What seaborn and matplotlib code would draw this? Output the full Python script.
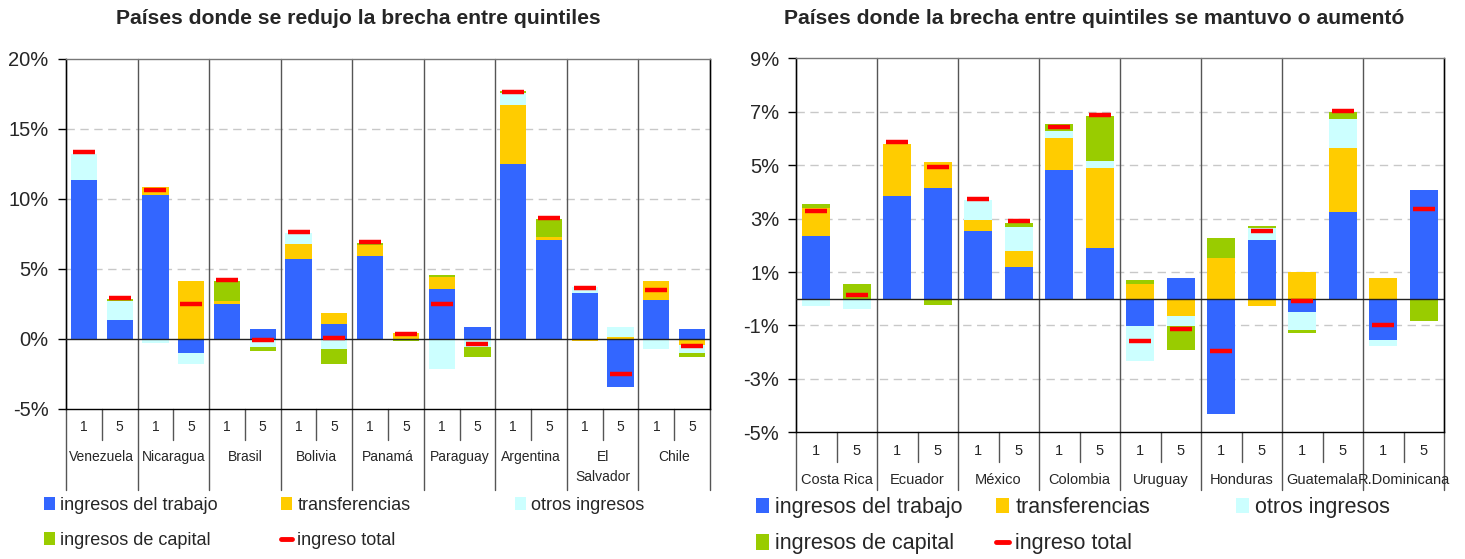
import numpy as np
import pandas as pd
import matplotlib
matplotlib.use("Agg")
import matplotlib.pyplot as plt
import seaborn as sns
from matplotlib.patches import Patch
from matplotlib.lines import Line2D

# ---------------- data ----------------
quintiles = ["1", "5"]
series_names = ["ingresos del trabajo", "transferencias", "otros ingresos",
                "ingresos de capital", "ingreso total"]

countries_L = ["Venezuela", "Nicaragua", "Brasil", "Bolivia", "Panamá",
               "Paraguay", "Argentina", "El\nSalvador", "Chile"]
trabajo_L = [11.35, 1.35, 10.3, -1.0, 2.5, 0.7, 5.7, 1.05, 5.95, 0.0,
             3.55, 0.85, 12.5, 7.05, 3.3, -3.45, 2.8, 0.7]
transf_L = [0.0, 0.0, 0.55, 4.15, 0.2, 0.0, 1.1, 0.8, 0.8, 0.4,
            0.9, -0.1, 4.2, 0.22, -0.12, 0.15, 1.35, -0.43]
otros_L = [1.9, 1.35, -0.25, -0.75, 0.05, -0.55, 0.75, -0.7, 0.0, 0.0,
           -2.15, -0.5, 0.85, 0.0, 0.4, 0.7, -0.7, -0.57]
capital_L = [0.0, 0.15, 0.0, 0.0, 1.4, -0.3, 0.0, -1.1, 0.12, -0.12,
             0.12, -0.65, 0.15, 1.28, 0.0, 0.0, 0.0, -0.29]
total_L = [13.35, 2.95, 10.65, 2.5, 4.25, -0.05, 7.65, 0.1, 6.95, 0.35,
           2.5, -0.35, 17.65, 8.65, 3.65, -2.5, 3.5, -0.5]
yticks_L = [20, 15, 10, 5, 0, -5]
ylabels_L = ["20%", "15%", "10%", "5%", "0%", "-5%"]

countries_R = ["Costa Rica", "Ecuador", "México", "Colombia", "Uruguay",
               "Honduras", "Guatemala", "R.Dominicana"]
trabajo_R = [2.35, 0.0, 3.85, 4.15, 2.55, 1.2, 4.8, 1.9,
             -1.02, 0.77, -4.3, 2.2, -0.5, 3.25, -1.55, 4.07]
transf_R = [1.06, 0.0, 1.95, 0.97, 0.4, 0.6, 1.2, 3.0,
            0.55, -0.65, 1.52, -0.27, 1.0, 2.39, 0.77, 0.0]
otros_R = [-0.26, -0.37, 0.0, 0.0, 0.75, 0.9, 0.27, 0.27,
           -1.31, -0.37, 0.0, 0.43, -0.67, 1.09, -0.22, 0.0]
capital_R = [0.14, 0.55, 0.0, -0.25, 0.0, 0.15, 0.26, 1.68,
             0.15, -0.9, 0.75, 0.09, -0.12, 0.26, 0.0, -0.84]
total_R = [3.3, 0.15, 5.85, 4.93, 3.74, 2.91, 6.44, 6.88,
           -1.59, -1.14, -1.96, 2.53, -0.09, 7.03, -0.99, 3.36]
yticks_R = [9, 7, 5, 3, 1, -1, -3, -5]
ylabels_R = ["9%", "7%", "5%", "3%", "1%", "-1%", "-3%", "-5%"]

colors = ["#3366FF", "#FFCC00", "#CCFFFF", "#99CC00", "#FF0000"]

# ---------------- style ----------------
sns.set_style("white")
plt.rcParams["font.family"] = ["Liberation Sans", "DejaVu Sans"]

W, H = 1465, 559
fig = plt.figure(figsize=(W / 100, H / 100), dpi=100)


def px_axes(x0, y0, x1, y1):
    return fig.add_axes([x0 / W, 1 - y1 / H, (x1 - x0) / W, (y1 - y0) / H])


def draw_panel(ax, countries, comps_list, total, yticks, ylabels, bar_w,
               bottom_px, height_px, sep_px, div_px, q_px, c_px, csize,
               mark_len, ypad):
    keys = [f"{c}|{q}" for c in countries for q in quintiles]
    n = len(keys)
    comps = np.array(comps_list)
    pos = np.where(comps > 0, comps, 0).cumsum(axis=0)
    neg = np.where(comps < 0, comps, 0).cumsum(axis=0)
    for i in range(3, -1, -1):
        for arr in (pos, neg):
            df = pd.DataFrame({"k": keys, "v": arr[i]})
            sns.barplot(data=df, x="k", y="v", order=keys, color=colors[i],
                        saturation=1, width=bar_w, linewidth=0,
                        edgecolor="none", errorbar=None, ax=ax, zorder=3)
    sns.pointplot(x=keys, y=total, order=keys, color=colors[4],
                  marker="_", linestyle="none", errorbar=None,
                  markersize=mark_len, markeredgewidth=3.2, ax=ax, zorder=6)

    ymin, ymax = min(yticks), max(yticks)
    ax.set_xlim(-0.5, n - 0.5)
    ax.set_ylim(ymin, ymax)
    ax.set_xticks([])
    ax.set_xlabel("")
    ax.set_ylabel("")
    ax.set_yticks(yticks)
    ax.set_yticklabels(ylabels)
    ax.tick_params(axis="y", left=True, length=6, width=1, color="black",
                   labelsize=14.5, pad=ypad)

    for t in yticks:
        if t not in (ymin, ymax, 0):
            ax.axhline(t, color="#C8C8C8", lw=1, ls=(0, (6, 4)), zorder=1)
    ax.axhline(0, color="#222222", lw=1, zorder=5)

    for sp in ["left", "bottom", "right"]:
        ax.spines[sp].set_color("black")
        ax.spines[sp].set_linewidth(1)
    ax.spines["top"].set_color("#777777")
    ax.spines["top"].set_linewidth(1)

    tr = ax.get_xaxis_transform()
    f = lambda p: -(p - bottom_px) / height_px
    for k in range(len(countries) + 1):
        b = 2 * k - 0.5
        ax.plot([b, b], [f(div_px), 1], transform=tr, color="#555555",
                lw=1, clip_on=False, zorder=2)
    for k in range(len(countries)):
        m = 2 * k + 0.5
        ax.plot([m, m], [f(sep_px), 0], transform=tr, color="#555555",
                lw=1, clip_on=False, zorder=2)
        ax.text(2 * k + 0.5, f(c_px), countries[k], transform=tr,
                ha="center", va="top", fontsize=csize, linespacing=1.55)
    for i in range(n):
        ax.text(i, f(q_px), quintiles[i % 2], transform=tr, ha="center",
                va="center", fontsize=csize)


axL = px_axes(66, 59, 710, 409)
draw_panel(axL, countries_L, [trabajo_L, transf_L, otros_L, capital_L],
           total_L, yticks_L, ylabels_L, 0.73, 409, 350,
           440, 490, 427, 450, 10, 15.5, 6.6)

axR = px_axes(796, 58.3, 1444, 432.3)
draw_panel(axR, countries_R, [trabajo_R, transf_R, otros_R, capital_R],
           total_R, yticks_R, ylabels_R, 0.70, 432.3, 374,
           462, 490, 451, 473, 10.5, 16, 6.0)

# titles
fig.text(358 / W, 1 - 18 / H, "Países donde se redujo la brecha entre quintiles",
         ha="center", va="center", fontsize=15.2, fontweight="bold")
fig.text(1094 / W, 1 - 18 / H,
         "Países donde la brecha entre quintiles se mantuvo o aumentó",
         ha="center", va="center", fontsize=15.2, fontweight="bold")

# legends
handles = [Patch(facecolor=colors[0], edgecolor="none"),
           Patch(facecolor=colors[1], edgecolor="none"),
           Patch(facecolor=colors[2], edgecolor="none"),
           Patch(facecolor=colors[3], edgecolor="none"),
           Line2D([0], [0], color=colors[4], lw=3.5)]
columns = [[0, 3], [1, 4], [2]]


def add_legends(xs, top_px, fsize, spacing):
    for x, idx in zip(xs, columns):
        fig.legend([handles[i] for i in idx], [series_names[i] for i in idx],
                   loc="upper left", bbox_to_anchor=(x / W, 1 - top_px / H),
                   frameon=False, fontsize=fsize, borderpad=0,
                   borderaxespad=0, handlelength=0.6, handleheight=0.75,
                   handletextpad=0.3, labelspacing=spacing)


add_legends([44, 281, 515], 497, 13, 1.0)
add_legends([756, 996, 1236], 497, 15.5, 0.72)

fig.savefig("out.png", dpi=100)
